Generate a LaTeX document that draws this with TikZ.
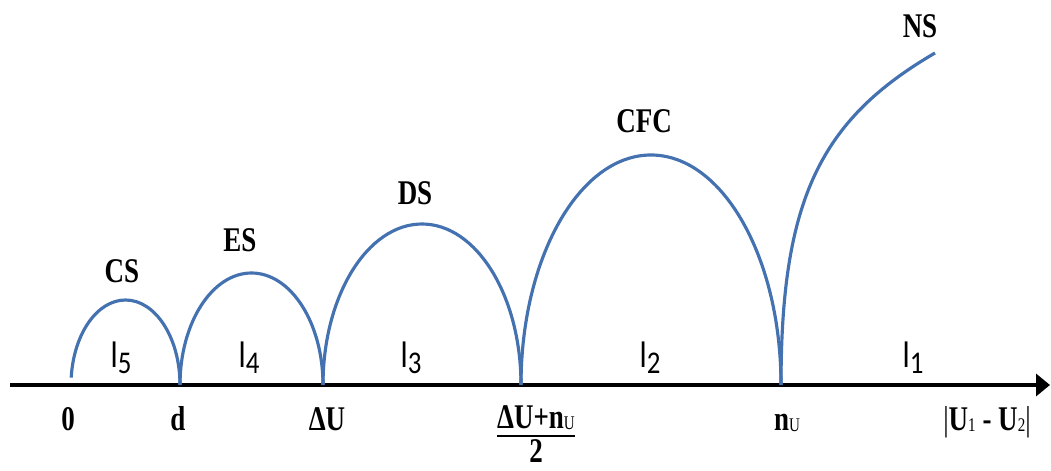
\documentclass[tikz,border=0pt]{standalone}
\usepackage{fontspec}
\setmainfont{Liberation Serif}[FakeStretch=0.78]
\newfontfamily\calfont{Carlito}[FakeStretch=0.85]
\usetikzlibrary{arrows.meta}
\definecolor{archblue}{RGB}{68,114,176}
\newcommand{\lsub}[1]{\raisebox{-3.4pt}{\fontsize{18}{18}\selectfont #1}}
\newcommand{\usub}[1]{\raisebox{-1pt}{\fontsize{11}{11}\selectfont\mdseries #1}}

\begin{document}
\begin{tikzpicture}[
    x=0.02cm, y=0.02cm,
    arch/.style={draw=archblue, line width=1.8pt},
    axis/.style={line width=2.3pt, -{Triangle[length=0.28cm, width=0.44cm]}},
    phase/.style={font=\fontsize{19.7}{22}\selectfont\bfseries, anchor=base, inner sep=0pt},
    axlab/.style={phase},
    interval/.style={font=\fontsize{21}{24}\calfont, anchor=base, inner sep=0pt},
  ]
    \useasboundingbox (0,0) rectangle (1051,470);

    % points on the axis
    \coordinate (ax0) at (10,85);
    \coordinate (ax1) at (1050,85);
    \coordinate (p0) at (71,85);
    \coordinate (pd) at (180,85);
    \coordinate (pdu) at (323,85);
    \coordinate (pm) at (521,85);
    \coordinate (pn) at (781,85);
    \coordinate (pend) at (935,417);

    \draw[axis] (ax0) -- (ax1);

    % arches
    \draw[arch] (pd) arc[start angle=0, end angle=175, x radius=54.5, y radius=85];
    \draw[arch] (pdu) arc[start angle=0, end angle=180, x radius=71.5, y radius=112];
    \draw[arch] (pm) arc[start angle=0, end angle=180, x radius=99, y radius=161];
    \draw[arch] (pn) arc[start angle=0, end angle=180, x radius=130, y radius=230];
    \draw[arch] (pn) .. controls +(0,185) and +(-115,-67) .. (pend);

    % phase names
    \node[phase] (cs) at (122,187) {CS};
    \node[phase] (es) at (240,218) {ES};
    \node[phase] (ds) at (415,265) {DS};
    \node[phase] (cfc) at (644,337) {CFC};
    \node[phase] (ns) at (920,432) {NS};

    % intervals
    \node[interval] (l5) at (121,102) {l\lsub{5}};
    \node[interval] (l4) at (249,102) {l\lsub{4}};
    \node[interval] (l3) at (411,102) {l\lsub{3}};
    \node[interval] (l2) at (650,102) {l\lsub{2}};
    \node[interval] (l1) at (913,102) {l\lsub{1}};

    % axis labels
    \node[axlab] (t0) at (68,40) {0};
    \node[axlab] (td) at (178,40) {d};
    \node[axlab] (tdu) at (327,40) {ΔU};
    \node[axlab] (fnum) at (536,42) {ΔU+n\usub{U}};
    \node[axlab] (fden) at (536,8) {2};
    \draw[line width=1.6pt] ([yshift=-4.5pt]fnum.base west) -- ([yshift=-4.5pt]fnum.base east);
    \node[axlab] (tn) at (787,40) {n\usub{U}};
    \node[axlab] (tu) at (987,40) {{\mdseries|}U\usub{1} - U\usub{2}{\mdseries|}};
  \end{tikzpicture}
\end{document}
